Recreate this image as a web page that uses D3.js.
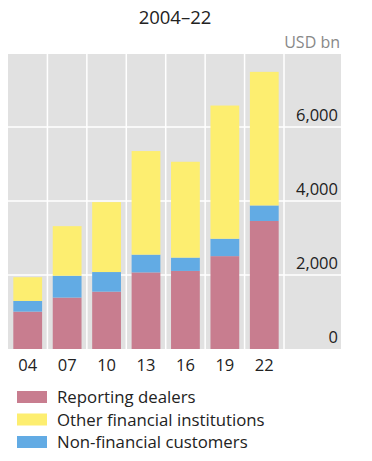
<!DOCTYPE html>
<html lang="en">
  <head>
    <meta charset="UTF-8" />
    <title>2004-22</title>
    <style>
      body { margin: 0; background: #fff; }
      text { font-family: "Open Sans", "Noto Sans", sans-serif; }
    </style>
  </head>
  <body>
    <script src="https://cdn.jsdelivr.net/npm/d3@7"></script>
    <script>
      // values in USD bn
      var years = ["04", "07", "10", "13", "16", "19", "22"];
      var dealers = [1010, 1390, 1550, 2070, 2110, 2510, 3460];
      var nonFinancial = [290, 590, 530, 480, 360, 470, 420];
      var otherFinancial = [640, 1340, 1890, 2800, 2590, 3600, 3610];
      var seriesNames = ["Reporting dealers", "Other financial institutions", "Non-financial customers"];
      var yTicks = [0, 2000, 4000, 6000];

      var w = 372, h = 461;
      var colors = {
        dealers: "#c87d8f",
        nonFinancial: "#62abe4",
        otherFinancial: "#fdee70"
      };

      var svg = d3.select("body").append("svg")
                  .attr("width", w)
                  .attr("height", h);

      var plot = { left: 8, right: 341, top: 54, bottom: 349 };

      var xScale = d3.scaleBand()
                     .domain(years)
                     .range([plot.left, 284])
                     .paddingInner(0)
                     .paddingOuter(0);

      var yScale = d3.scaleLinear()
                     .domain([0, 8000])
                     .range([plot.bottom, plot.bottom - 296]);

      // gray background
      svg.append("rect")
         .attr("x", plot.left)
         .attr("y", plot.top)
         .attr("width", plot.right - plot.left)
         .attr("height", plot.bottom - plot.top)
         .attr("fill", "#e1e1e1");

      // vertical white separators between bands
      svg.selectAll(".vline")
         .data(years)
         .enter()
         .append("line")
         .attr("class", "vline")
         .attr("x1", function(d) { return xScale(d) + xScale.bandwidth(); })
         .attr("x2", function(d) { return xScale(d) + xScale.bandwidth(); })
         .attr("y1", plot.top)
         .attr("y2", plot.bottom)
         .attr("stroke", "#fff")
         .attr("stroke-width", 1.5);

      // horizontal gridlines
      svg.selectAll(".hline")
         .data(yTicks.filter(function(d) { return d > 0; }))
         .enter()
         .append("line")
         .attr("class", "hline")
         .attr("x1", plot.left)
         .attr("x2", plot.right)
         .attr("y1", function(d) { return yScale(d); })
         .attr("y2", function(d) { return yScale(d); })
         .attr("stroke", "#fff")
         .attr("stroke-width", 1.5);

      // stacked bars: dealers, non-financial, other financial
      var rows = years.map(function(y, i) {
        return { year: y, dealers: dealers[i], nonFinancial: nonFinancial[i], otherFinancial: otherFinancial[i] };
      });
      var stack = d3.stack().keys(["dealers", "nonFinancial", "otherFinancial"]);
      var layers = stack(rows);

      var barW = xScale.bandwidth() * 0.73;
      var barOff = (xScale.bandwidth() - barW) / 2;

      svg.selectAll(".layer")
         .data(layers)
         .enter()
         .append("g")
         .attr("fill", function(d) { return colors[d.key]; })
         .selectAll("rect")
         .data(function(d) { return d; })
         .enter()
         .append("rect")
         .attr("x", function(d) { return xScale(d.data.year) + barOff; })
         .attr("y", function(d) { return yScale(d[1]); })
         .attr("width", barW)
         .attr("height", function(d) { return yScale(d[0]) - yScale(d[1]); });

      // y labels
      svg.selectAll(".ylab")
         .data(yTicks)
         .enter()
         .append("text")
         .attr("x", 338)
         .attr("y", function(d) { return yScale(d) - 6; })
         .attr("text-anchor", "end")
         .attr("font-size", 16.5)
         .attr("fill", "#222")
         .text(function(d) { return d3.format(",")(d); });

      // x labels
      svg.selectAll(".xlab")
         .data(years)
         .enter()
         .append("text")
         .attr("x", function(d) { return xScale(d) + xScale.bandwidth() / 2; })
         .attr("y", 371)
         .attr("text-anchor", "middle")
         .attr("font-size", 16.5)
         .attr("fill", "#222")
         .text(function(d) { return d; });

      // title and unit
      svg.append("text")
         .attr("x", 175)
         .attr("y", 24)
         .attr("text-anchor", "middle")
         .attr("font-size", 18.5)
         .attr("fill", "#222")
         .text("2004–22");

      svg.append("text")
         .attr("x", 340)
         .attr("y", 48)
         .attr("text-anchor", "end")
         .attr("font-size", 16)
         .attr("fill", "#888")
         .text("USD bn");

      // legend
      var legendColors = [colors.dealers, colors.otherFinancial, colors.nonFinancial];
      var legend = svg.selectAll(".legend")
                      .data(seriesNames)
                      .enter()
                      .append("g")
                      .attr("transform", function(d, i) { return "translate(17," + (391 + i * 22.5) + ")"; });
      legend.append("rect")
            .attr("width", 30)
            .attr("height", 12)
            .attr("fill", function(d, i) { return legendColors[i]; });
      legend.append("text")
            .attr("x", 40)
            .attr("y", 12)
            .attr("font-size", 16.8)
            .attr("fill", "#222")
            .text(function(d) { return d; });
    </script>
  </body>
</html>
